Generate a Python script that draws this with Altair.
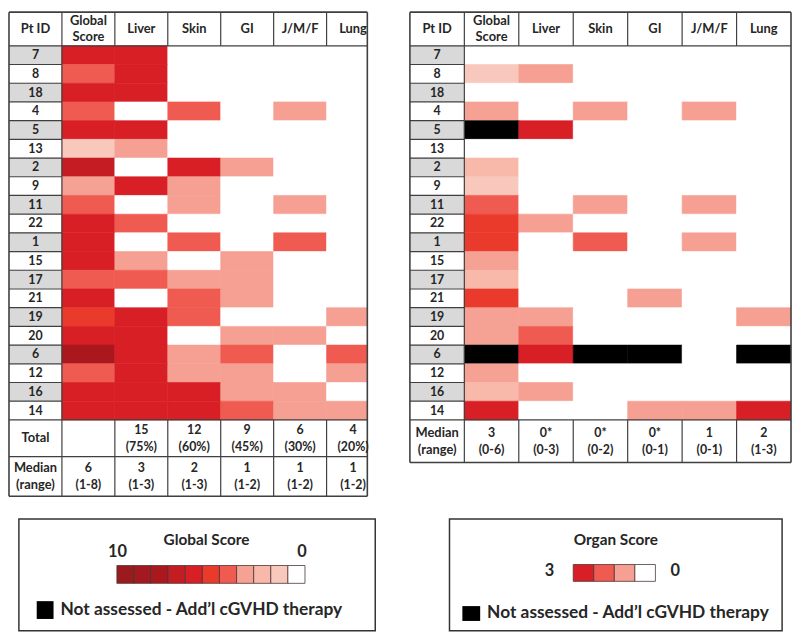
import altair as alt
import pandas as pd

# ---------------- data ----------------
patients = ["7", "8", "18", "4", "5", "13", "2", "9", "11", "22",
            "1", "15", "17", "21", "19", "20", "6", "12", "16", "14"]
headers = ["Pt ID", "Global\nScore", "Liver", "Skin", "GI", "J/M/F", "Lung"]

# baseline (left table); None = not assessed
base_global = [6, 4, 6, 4, 6, 1, 7, 3, 4, 6, 6, 6, 4, 6, 5, 6, 8, 4, 6, 6]
base_liver = [3, 3, 3, 0, 3, 1, 0, 3, 0, 2, 0, 1, 2, 0, 3, 3, 3, 3, 3, 3]
base_skin = [0, 0, 0, 2, 0, 0, 3, 1, 1, 0, 2, 0, 1, 2, 2, 0, 1, 1, 3, 3]
base_gi = [0, 0, 0, 0, 0, 0, 1, 0, 0, 0, 0, 1, 1, 1, 0, 1, 2, 1, 1, 2]
base_jmf = [0, 0, 0, 1, 0, 0, 0, 0, 1, 0, 2, 0, 0, 0, 0, 1, 0, 0, 1, 1]
base_lung = [0, 0, 0, 0, 0, 0, 0, 0, 0, 0, 0, 0, 0, 0, 1, 0, 2, 1, 0, 1]

# follow-up (right table)
fu_global = [0, 1, 0, 3, None, 0, 2, 1, 4, 5, 5, 3, 2, 5, 3, 3, None, 3, 2, 6]
fu_liver = [0, 1, 0, 0, 3, 0, 0, 0, 0, 1, 0, 0, 0, 0, 1, 2, 3, 0, 1, 0]
fu_skin = [0, 0, 0, 1, 0, 0, 0, 0, 1, 0, 2, 0, 0, 0, 0, 0, None, 0, 0, 0]
fu_gi = [0, 0, 0, 0, 0, 0, 0, 0, 0, 0, 0, 0, 0, 1, 0, 0, None, 0, 0, 1]
fu_jmf = [0, 0, 0, 1, 0, 0, 0, 0, 1, 0, 1, 0, 0, 0, 0, 0, 0, 0, 0, 1]
fu_lung = [0, 0, 0, 0, 0, 0, 0, 0, 0, 0, 0, 0, 0, 0, 1, 0, None, 0, 0, 3]

total_label = "Total"
median_label = "Median\n(range)"
base_total = ["", "15\n(75%)", "12\n(60%)", "9\n(45%)", "6\n(30%)", "4\n(20%)"]
base_median = ["6\n(1-8)", "3\n(1-3)", "2\n(1-3)", "1\n(1-2)", "1\n(1-2)", "1\n(1-2)"]
fu_median = ["3\n(0-6)", "0*\n(0-3)", "0*\n(0-2)", "0*\n(0-1)", "1\n(0-1)", "2\n(1-3)"]

global_legend_title = "Global Score"
organ_legend_title = "Organ Score"
na_note = "Not assessed - Add\u2019l cGVHD therapy"
global_legend_values = list(range(10, -1, -1))
organ_legend_values = [3, 2, 1, 0]

# ---------------- styles ----------------
global_palette = ["#ffffff", "#f9c8bc", "#f8b8aa", "#f5a193", "#ef5b50", "#e93a2c",
                  "#d81f26", "#c41c22", "#aa181d", "#a21a1f", "#9b1a1e"]
organ_palette = ["#ffffff", "#f5a093", "#ef5b50", "#d81f26"]
keys = [f"g{i}" for i in range(11)] + [f"o{i}" for i in range(4)] + ["na", "id0", "id1"]
colors = global_palette + organ_palette + ["#000000", "#d9d9d9", "#ffffff"]

FONT = "Lato"
INK = "#262626"
LINE = "#3f3f3f"
UNIT = 18.9
HEADER_U = 1.8
LINE_H = 17


def cscale():
    return alt.Scale(domain=keys, range=colors)


def tpos(center, text):
    k = text.count("\n")
    return center - k * (LINE_H / UNIT) / 2


def table(glob, organs, summaries, xmax, width):
    n = len(patients)
    cells, rules, texts = [], [], []
    for r, pid in enumerate(patients):
        top = HEADER_U + r
        cells.append(dict(x=0, x2=1, y=top, y2=top + 1, key=f"id{r % 2}"))
        for c, vals in enumerate([glob] + organs, start=1):
            v = vals[r]
            key = "na" if v is None else (f"g{v}" if c == 1 else f"o{v}")
            cells.append(dict(x=c, x2=c + 1, y=top, y2=top + 1, key=key))
        texts.append(dict(x=0.5, y=tpos(top + 0.5, pid), t=pid, s=12.5))
    for c, h in enumerate(headers):
        texts.append(dict(x=c + 0.5, y=tpos(HEADER_U / 2, h), t=h, s=13))
    ytop = HEADER_U + n
    for label, vals, hu in summaries:
        rules.append(dict(x=0, x2=xmax, y=ytop, y2=ytop, w=1.2))
        texts.append(dict(x=0.5, y=tpos(ytop + hu / 2, label), t=label, s=13))
        for c, v in enumerate(vals, start=1):
            texts.append(dict(x=c + 0.5, y=tpos(ytop + hu / 2, v), t=v, s=12.5))
        for c in range(2, 7):
            rules.append(dict(x=c, x2=c, y=ytop, y2=ytop + hu, w=1.2))
        ytop += hu
    ybot = ytop
    for c in range(2, 7):
        rules.append(dict(x=c, x2=c, y=0, y2=HEADER_U, w=1.2))
    rules.append(dict(x=0, x2=xmax, y=HEADER_U, y2=HEADER_U, w=1.2))
    for k in range(1, n):
        rules.append(dict(x=0, x2=1, y=HEADER_U + k, y2=HEADER_U + k, w=1.2))
    rules.append(dict(x=1, x2=1, y=0, y2=ybot, w=1.2))
    rules += [dict(x=0, x2=xmax, y=0, y2=0, w=1.6),
              dict(x=0, x2=xmax, y=ybot, y2=ybot, w=1.6),
              dict(x=0, x2=0, y=0, y2=ybot, w=1.6),
              dict(x=xmax, x2=xmax, y=0, y2=ybot, w=1.6)]
    height = round(ybot * UNIT)

    xs = alt.Scale(domain=[0, xmax], nice=False, zero=False)
    ys = alt.Scale(domain=[0, ybot], nice=False, zero=False, reverse=True)

    cell_layer = alt.Chart(pd.DataFrame(cells)).mark_rect(clip=True, strokeWidth=0.6).encode(
        x=alt.X("x:Q", scale=xs, axis=None), x2="x2:Q",
        y=alt.Y("y:Q", scale=ys, axis=None), y2="y2:Q",
        color=alt.Color("key:N", scale=cscale(), legend=None),
        stroke=alt.Stroke("key:N", scale=cscale(), legend=None),
    )
    rule_layer = alt.Chart(pd.DataFrame(rules)).mark_rule(color=LINE).encode(
        x=alt.X("x:Q", scale=xs, axis=None), x2="x2:Q",
        y=alt.Y("y:Q", scale=ys, axis=None), y2="y2:Q",
        strokeWidth=alt.StrokeWidth("w:Q", scale=None),
    )
    text_layer = alt.Chart(pd.DataFrame(texts)).mark_text(
        font=FONT, fontWeight="bold", color=INK, lineBreak="\n", lineHeight=LINE_H,
        align="center", baseline="middle").encode(
        x=alt.X("x:Q", scale=xs, axis=None),
        y=alt.Y("y:Q", scale=ys, axis=None),
        text="t:N",
        size=alt.Size("s:Q", scale=None),
    )
    return alt.layer(cell_layer, rule_layer, text_layer).properties(width=width, height=height)


def legend(title, title_xy, values, prefix, bar_range, bar_y, hi, hi_xy, lo, lo_xy,
           box_x, sq, note_xy, width):
    one = pd.DataFrame({"a": [0]})
    box = alt.Chart(one).mark_rect(fill="white", stroke="#333333", strokeWidth=1.5).encode(
        x=alt.value(box_x[0]), x2=alt.value(box_x[1]), y=alt.value(1), y2=alt.value(114))
    bar_df = pd.DataFrame({"i": list(range(len(values))),
                           "key": [f"{prefix}{v}" for v in values]})
    bar = alt.Chart(bar_df).transform_calculate(i2="datum.i + 1").mark_rect(
        stroke="#4d3535", strokeWidth=0.8).encode(
        x=alt.X("i:Q", scale=alt.Scale(domain=[0, len(values)], range=list(bar_range), nice=False, zero=False), axis=None),
        x2="i2:Q",
        y=alt.value(bar_y[0]), y2=alt.value(bar_y[1]),
        color=alt.Color("key:N", scale=cscale(), legend=None),
    )
    labels = pd.DataFrame({
        "t": [title, hi, lo],
        "px": [title_xy[0], hi_xy[0], lo_xy[0]],
        "py": [title_xy[1], hi_xy[1], lo_xy[1]],
        "s": [15.5, 16.5, 16.5],
    })
    lab = alt.Chart(labels).mark_text(font=FONT, fontWeight="bold", color=INK,
                                      align="center", baseline="middle").encode(
        x=alt.X("px:Q", scale=None), y=alt.Y("py:Q", scale=None), text="t:N",
        size=alt.Size("s:Q", scale=None))
    square = alt.Chart(one).mark_rect(color="#000000").encode(
        x=alt.value(sq[0]), x2=alt.value(sq[1]), y=alt.value(sq[2]), y2=alt.value(sq[3]))
    note = alt.Chart(one).mark_text(font=FONT, fontWeight="bold", color=INK, fontSize=17.5,
                                    align="left", baseline="middle").encode(
        x=alt.value(note_xy[0]), y=alt.value(note_xy[1]), text=alt.value(na_note))
    return alt.layer(box, bar, lab, square, note).properties(width=width, height=115)


left_table = table(base_global, [base_liver, base_skin, base_gi, base_jmf, base_lung],
                   [(total_label, base_total, 1.96), (median_label, base_median, 2.12)],
                   xmax=6.77, width=362)
right_table = table(fu_global, [fu_liver, fu_skin, fu_gi, fu_jmf, fu_lung],
                    [(median_label, fu_median, 2.28)],
                    xmax=7, width=385)

left_legend = legend(global_legend_title, (199.5, 22), global_legend_values, "g",
                     (109, 299), (48, 66), "10", (109.5, 34), "0", (296, 34),
                     (10, 370), (28, 45, 84, 102), (52, 93), 370)
right_legend = legend(organ_legend_title, (208, 22), organ_legend_values, "o",
                      (165, 248), (47, 64), "3", (141, 54), "0", (268, 54),
                      (40, 376), (53, 71, 89, 104), (78, 96), 385)

left_col = alt.vconcat(left_table, left_legend, spacing=21)
right_col = alt.vconcat(right_table, right_legend, spacing=55)

chart = alt.hconcat(left_col, right_col, spacing=33).properties(
    padding=0).configure_view(stroke=None)

chart.save("out.html", embed_options={"renderer": "svg", "actions": False})
